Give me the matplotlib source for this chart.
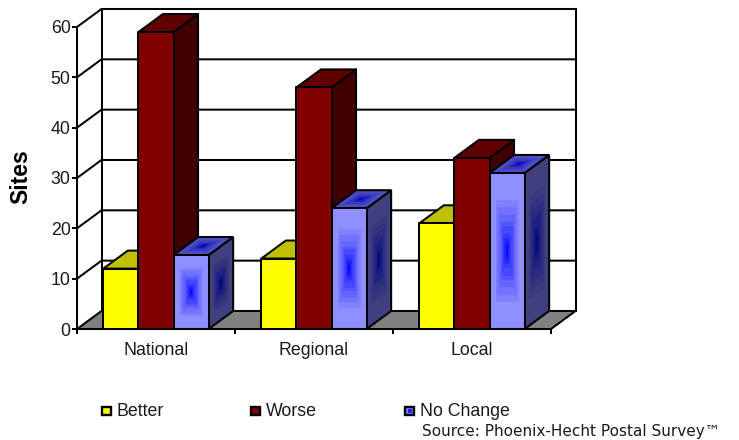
import numpy as np
import matplotlib
matplotlib.use('Agg')
import matplotlib.pyplot as plt
from matplotlib.colors import ListedColormap
from matplotlib.patches import Polygon, Rectangle

categories = ['National', 'Regional', 'Local']
better = [12, 14, 21]
worse = [59, 48, 34]
no_change = [14.7, 24, 31]
y_ticks = [0, 10, 20, 30, 40, 50, 60]

W, H = 739, 440
LEFT, RIGHT, BOTTOM, TOP = 77, 551, 329, 27
BAR_W = 1 / 4.5
GAP = 0.75 / 4.5
DX = 24.5 / 158      # depth offset in category units
DY = 18 / 5.03       # depth offset in value units
LW = 1.45
LEVELS = 11
TEXT = '#1a1a1a'

plt.rcParams['font.family'] = ['Liberation Sans', 'DejaVu Sans']

fig = plt.figure(figsize=(W / 100, H / 100), dpi=100)
ax = fig.add_axes([LEFT / W, 1 - BOTTOM / H, (RIGHT - LEFT) / W, (BOTTOM - TOP) / H])
ax.set_xlim(0, 3)
ax.set_ylim(0, 60)
ax.patch.set_visible(False)


def poly(points, color, z):
    ax.add_patch(Polygon(points, closed=True, facecolor=color, edgecolor='black',
                         linewidth=LW, joinstyle='round', clip_on=False, zorder=z))


def box_colors(nx, ny):
    # rectangular gradient: bands growing out of the centre of the face
    u = np.abs(np.linspace(-1, 1, nx))
    v = np.abs(np.linspace(-1, 1, ny))
    d = np.maximum(u[None, :], v[:, None])
    return np.clip(d * 1.3, 0, 1) ** 0.65


def gradient_face(p0, ex, ey, inner, outer, z):
    # p0 corner, ex and ey edge vectors of a parallelogram face
    nx, ny = 41, 41
    S, T = np.meshgrid(np.linspace(0, 1, nx + 1), np.linspace(0, 1, ny + 1))
    X = p0[0] + S * ex[0] + T * ey[0]
    Y = p0[1] + S * ex[1] + T * ey[1]
    cmap = ListedColormap(np.linspace(inner, outer, LEVELS))
    ax.pcolormesh(X, Y, box_colors(nx, ny), cmap=cmap, vmin=0, vmax=1, shading='flat',
                  antialiased=False, linewidth=0, clip_on=False, zorder=z)
    corners = [p0, (p0[0] + ex[0], p0[1] + ex[1]),
               (p0[0] + ex[0] + ey[0], p0[1] + ex[1] + ey[1]),
               (p0[0] + ey[0], p0[1] + ey[1])]
    ax.add_patch(Polygon(corners, closed=True, facecolor='none', edgecolor='black',
                         linewidth=LW, clip_on=False, zorder=z + 0.01))


def solid_bar(x, v, front, top, side, z):
    poly([(x, 0), (x + BAR_W, 0), (x + BAR_W, v), (x, v)], front, z + 0.2)
    poly([(x, v), (x + DX, v + DY), (x + BAR_W + DX, v + DY), (x + BAR_W, v)], top, z + 0.1)
    poly([(x + BAR_W, 0), (x + BAR_W + DX, DY), (x + BAR_W + DX, v + DY), (x + BAR_W, v)], side, z)


def gradient_bar(x, v, z):
    gradient_face((x + BAR_W, 0), (DX, DY), (0, v), (0, 0, .5), (.25, .25, .5), z)
    gradient_face((x, v), (BAR_W, 0), (DX, DY), (0, 0, .75), (.3, .3, .75), z + 0.1)
    gradient_face((x, 0), (BAR_W, 0), (0, v), (0, 0, 1), (.56, .56, 1), z + 0.2)


# floor and back wall
poly([(0, 0), (3, 0), (3 + DX, DY), (DX, DY)], '#808080', 1)
for t in y_ticks[1:]:
    ax.plot([0, DX, 3 + DX], [t, t + DY, t + DY], color='black', lw=LW,
            clip_on=False, zorder=1.5, solid_joinstyle='miter')
ax.plot([DX, DX], [DY, 60 + DY], color='black', lw=LW, clip_on=False, zorder=1.5)
ax.plot([3 + DX, 3 + DX], [DY, 60 + DY], color='black', lw=LW, clip_on=False, zorder=1.5)

# bars, drawn left to right so nearer sides overlap correctly
for i in range(3):
    x0 = i + GAP
    solid_bar(x0, better[i], '#ffff00', '#c0c000', '#808000', 2 + i)
    solid_bar(x0 + BAR_W, worse[i], '#800000', '#600000', '#400000', 2.3 + i)
    gradient_bar(x0 + 2 * BAR_W, no_change[i], 2.6 + i)

for name in ['top', 'right']:
    ax.spines[name].set_visible(False)
for name in ['left', 'bottom']:
    ax.spines[name].set_linewidth(LW)
    ax.spines[name].set_zorder(9)
ax.set_yticks(y_ticks)
ax.set_xticks([0, 1, 2, 3])
ax.set_xticklabels([])
ax.tick_params(axis='both', length=3.6, width=LW, labelsize=12.8, pad=1,
               color='black', labelcolor=TEXT)
for i, name in enumerate(categories):
    ax.text(i + 0.5, -2.6, name, ha='center', va='top', fontsize=12.8, color=TEXT, clip_on=False)
fig.text(21 / W, 1 - 177 / H, 'Sites', rotation=90, ha='center', va='center',
         fontsize=16.5, fontweight='bold', color='black')

# legend row
legend_items = [(102, '#ffff00', 'Better', 117), (251, '#800000', 'Worse', 266),
                (405, '#8080ff', 'No Change', 420)]
for px, color, label, tx in legend_items:
    fig.add_artist(Rectangle((px / W, 1 - 415 / H), 9 / W, 8 / H, transform=fig.transFigure,
                             facecolor=color, edgecolor='black', linewidth=1.7))
    fig.text(tx / W, 1 - 411 / H, label, ha='left', va='center', fontsize=12.8, color=TEXT)
fig.add_artist(Rectangle((407.5 / W, 1 - 413 / H), 4 / W, 4 / H, transform=fig.transFigure,
                         facecolor='#2020ff', edgecolor='none'))
fig.text(422 / W, 1 - 431 / H, 'Source: Phoenix-Hecht Postal Survey™', ha='left', va='center',
         fontsize=11, family='DejaVu Sans', color=TEXT)

fig.savefig('out.png', dpi=100)
